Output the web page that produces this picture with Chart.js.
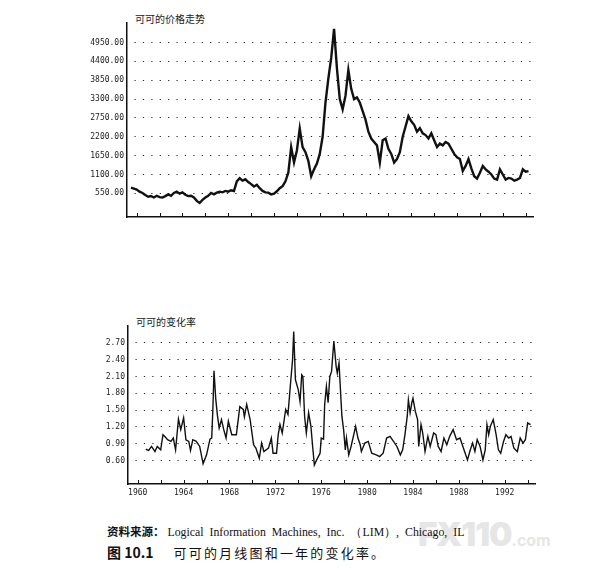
<!DOCTYPE html>
<html>
<head>
<meta charset="utf-8">
<script src="https://cdn.jsdelivr.net/npm/chart.js@4.4.0/dist/chart.umd.min.js"></script>
<style>
    body { margin: 0; background: #fff; width: 593px; height: 586px; position: relative; overflow: hidden; }
    .box { position: absolute; left: 0; }
    .title { position: absolute; font-family: "Noto Sans CJK SC", sans-serif; font-size: 10px; color: #222; white-space: nowrap; }
    .source { position: absolute; left: 107px; top: 523px; font-family: "Liberation Serif", serif; font-size: 11.8px; color: #111; white-space: nowrap; word-spacing: 3px; }
    .source b { font-family: "Noto Sans CJK SC", sans-serif; font-weight: bold; font-size: 11.5px; margin-right: 3px; }
    .caption { position: absolute; left: 107px; top: 542px; font-family: "Noto Sans CJK SC", sans-serif; font-size: 13px; color: #111; white-space: nowrap; letter-spacing: 2.2px; }
    .caption b { font-size: 14px; letter-spacing: 0; margin-right: 20px; }
    .mark { position: absolute; left: 418px; top: 514px; font-family: Inter, "DejaVu Sans", sans-serif; font-weight: 900; font-size: 33px; color: #e6e6e6; white-space: nowrap; letter-spacing: -1px; }
    .mark span { font-size: 16px; font-weight: 700; letter-spacing: 0; }
</style>
</head>
<body>
<div class="title" style="left:135px; top:11px;">可可的价格走势</div>
<div class="box" style="top:0;"><canvas id="price-chart" width="593" height="230"></canvas></div>
<div class="title" style="left:136px; top:314px;">可可的变化率</div>
<div class="box" style="top:300px;"><canvas id="roc-chart" width="593" height="200"></canvas></div>
<div class="mark">FX110<span>.com</span></div>
<div class="source"><b>资料来源：</b>Logical Information Machines, Inc. （LIM）, Chicago, IL</div>
<div class="caption"><b>图 10.1</b>可可的月线图和一年的变化率。</div>
<script>
// Precio del cacao, un valor por trimestre desde 1959.5
const priceStart = 1959.5;
const priceValues = [
    720, 690,
    660, 600, 560, 500,
    450, 470, 430, 480,
    440, 430, 470, 520,
    480, 560, 600, 540,
    580, 510, 470, 480,
    430, 330, 270, 360,
    430, 480, 560, 520,
    570, 600, 580, 620,
    600, 640, 620, 900,
    990, 920, 960, 880,
    820, 750, 800, 700,
    620, 580, 570, 520,
    540, 610, 700, 760,
    900, 1150, 1900, 1450,
    1800, 2440, 1900, 1750,
    1500, 1050, 1250, 1420,
    1700, 2200, 3200, 3900,
    4500, 5350, 4200, 3300,
    3000, 3400, 4150, 3600,
    3300, 3350, 3200, 2950,
    2700, 2350, 2150, 2050,
    1950, 1450, 2100, 2150,
    1850, 1700, 1450, 1550,
    1750, 2200, 2500, 2800,
    2650, 2550, 2350, 2450,
    2300, 2250, 2150, 2300,
    2100, 1900, 2000, 1950,
    2050, 2000, 1850, 1700,
    1600, 1550, 1200, 1350,
    1550, 1280, 1050, 980,
    1150, 1350, 1250, 1180,
    1100, 980, 950, 1250,
    1100, 950, 1000, 980,
    920, 950, 1000, 1250,
    1180, 1200
];
const priceTicks = [550, 1100, 1650, 2200, 2750, 3300, 3850, 4400, 4950];

// Tasa de cambio a un año
const rocYears = [
    1960.7, 1960.95, 1961.2, 1961.5, 1961.7, 1962.0, 1962.2, 1962.4, 1962.6, 1962.9,
    1963.1, 1963.3, 1963.55, 1963.75, 1964.0, 1964.2, 1964.45, 1964.6, 1964.8, 1965.1,
    1965.4, 1965.7, 1966.0, 1966.3, 1966.45, 1966.55, 1966.65, 1966.8, 1966.95, 1967.1,
    1967.3, 1967.5, 1967.7, 1967.9, 1968.2, 1968.6, 1968.9, 1969.2, 1969.3, 1969.5,
    1969.8, 1970.1, 1970.3, 1970.6, 1970.8, 1971.0, 1971.4, 1971.65, 1971.8, 1972.1,
    1972.25, 1972.4, 1972.6, 1972.9, 1973.1, 1973.3, 1973.5, 1973.6, 1973.75, 1974.0,
    1974.15, 1974.3, 1974.4, 1974.55, 1974.7, 1974.9, 1975.1, 1975.25, 1975.4, 1975.6,
    1975.9, 1976.0, 1976.2, 1976.3, 1976.45, 1976.6, 1976.75, 1976.9, 1977.1, 1977.3,
    1977.4, 1977.55, 1977.8, 1977.95, 1978.1, 1978.2, 1978.4, 1978.6, 1979.0, 1979.2,
    1979.4, 1979.5, 1979.8, 1980.1, 1980.4, 1980.8, 1981.1, 1981.4, 1981.7, 1982.0,
    1982.3, 1982.6, 1982.9, 1983.1, 1983.3, 1983.5, 1983.6, 1983.75, 1983.9, 1984.0,
    1984.2, 1984.4, 1984.5, 1984.7, 1984.85, 1985.05, 1985.3, 1985.5, 1985.8, 1986.0,
    1986.2, 1986.45, 1986.7, 1986.95, 1987.2, 1987.5, 1987.8, 1988.1, 1988.3, 1988.5,
    1988.75, 1989.0, 1989.2, 1989.4, 1989.6, 1989.85, 1990.1, 1990.3, 1990.45, 1990.6,
    1990.75, 1991.0, 1991.25, 1991.45, 1991.65, 1991.9, 1992.1, 1992.35, 1992.55, 1992.8,
    1993.1, 1993.35, 1993.6, 1993.8, 1994.0, 1994.25
];
const rocValues = [
    0.80, 0.78, 0.85, 0.76, 0.85, 0.79, 1.06, 1.02, 0.97, 0.94,
    1.00, 0.79, 1.34, 1.15, 1.36, 0.97, 0.94, 0.78, 0.97, 0.94,
    0.85, 0.54, 0.70, 0.98, 1.00, 1.51, 2.20, 1.70, 1.40, 1.18,
    1.33, 1.15, 1.00, 1.30, 1.06, 1.06, 1.56, 1.51, 1.38, 1.60,
    1.33, 0.88, 0.82, 0.64, 0.91, 0.76, 0.82, 1.00, 0.73, 0.73,
    1.06, 1.24, 1.09, 1.51, 1.42, 1.92, 2.40, 2.90, 2.04, 1.86,
    1.65, 2.13, 2.10, 1.39, 1.09, 1.45, 1.21, 0.85, 0.52, 0.61,
    0.73, 1.00, 0.98, 1.60, 1.92, 1.63, 2.10, 2.19, 2.73, 2.28,
    2.16, 2.34, 1.39, 1.15, 0.79, 1.00, 0.70, 0.85, 1.21, 1.00,
    0.88, 0.76, 0.91, 0.94, 0.73, 0.70, 0.67, 0.73, 1.00, 1.03,
    0.94, 0.85, 0.70, 0.79, 1.06, 1.39, 1.68, 1.45, 1.63, 1.71,
    1.48, 1.33, 0.85, 1.24, 1.09, 0.76, 1.03, 0.85, 1.09, 1.06,
    0.85, 0.76, 1.00, 0.88, 1.03, 1.15, 0.97, 1.00, 0.88, 0.76,
    0.61, 0.79, 0.91, 0.76, 0.97, 0.85, 0.61, 0.79, 1.24, 1.06,
    1.21, 1.33, 1.06, 0.79, 0.73, 0.94, 1.06, 1.00, 1.03, 0.82,
    0.76, 1.00, 0.91, 0.97, 1.27, 1.24
];
const rocTicks = [0.6, 0.9, 1.2, 1.5, 1.8, 2.1, 2.4, 2.7];
const yearTicks = [1960, 1962, 1964, 1966, 1968, 1970, 1972, 1974, 1976, 1978,
    1980, 1982, 1984, 1986, 1988, 1990, 1992, 1994];

const monoFont = { family: "'DejaVu Sans Mono', monospace", size: 8 };

// Marcas cortas del eje x hacia dentro del gráfico
const innerTicks = {
    id: "innerTicks",
    afterDraw(chart) {
        const ctx = chart.ctx;
        const x = chart.scales.x;
        ctx.save();
        ctx.strokeStyle = "#111";
        ctx.lineWidth = 1;
        x.ticks.forEach((t) => {
            const px = Math.round(x.getPixelForValue(t.value)) + 0.5;
            ctx.beginPath();
            ctx.moveTo(px, x.top);
            ctx.lineTo(px, x.top - 4);
            ctx.stroke();
        });
        ctx.restore();
    },
};

function yScale(min, max, ticks, digits, width) {
    return {
        type: "linear",
        min: min,
        max: max,
        afterBuildTicks: (s) => { s.ticks = ticks.map((v) => ({ value: v })); },
        afterFit: (s) => { s.width = width; },
        grid: { color: "#222", lineWidth: 1, drawTicks: false },
        border: { color: "#111", width: 1.5, dash: [1.2, 7.2], dashOffset: -7 },
        ticks: {
            color: "#222",
            font: monoFont,
            padding: 3,
            callback: (v) => Number(v).toFixed(digits),
        },
    };
}

function xScale(showLabels, height) {
    return {
        type: "linear",
        min: 1959.15,
        max: 1994.64,
        afterBuildTicks: (s) => { s.ticks = yearTicks.map((v) => ({ value: v })); },
        afterFit: (s) => { s.height = height; },
        grid: { display: false, drawTicks: false },
        border: { color: "#111", width: 1.5 },
        ticks: {
            display: showLabels,
            color: "#222",
            font: monoFont,
            padding: 4,
            maxRotation: 0,
            autoSkip: false,
            callback: (v) => (v % 4 === 0 && v < 1994 ? String(v) : ""),
        },
    };
}

const commonOptions = {
    responsive: false,
    animation: false,
    devicePixelRatio: 1,
    plugins: { legend: { display: false }, tooltip: { enabled: false } },
    elements: { point: { radius: 0 } },
};

// Gráfico de precios
new Chart(document.getElementById("price-chart").getContext("2d"), {
    type: "line",
    data: {
        datasets: [
            {
                data: priceValues.map((v, i) => ({ x: priceStart + i * 0.25, y: v })),
                borderColor: "#111",
                borderWidth: 2.4,
                tension: 0,
                fill: false,
            },
        ],
    },
    options: {
        ...commonOptions,
        layout: { padding: { left: 0, right: 60, top: 23, bottom: 0 } },
        scales: {
            x: xScale(false, 13),
            y: yScale(-140, 5520, priceTicks, 2, 127),
        },
    },
    plugins: [innerTicks],
});

// Gráfico de la tasa de cambio
new Chart(document.getElementById("roc-chart").getContext("2d"), {
    type: "line",
    data: {
        datasets: [
            {
                data: rocValues.map((v, i) => ({ x: rocYears[i], y: v })),
                borderColor: "#111",
                borderWidth: 1.4,
                tension: 0,
                fill: false,
            },
        ],
    },
    options: {
        ...commonOptions,
        layout: { padding: { left: 0, right: 58, top: 26, bottom: 0 } },
        scales: {
            x: xScale(true, 16),
            y: yScale(0.18, 3.0, rocTicks, 2, 128),
        },
    },
    plugins: [innerTicks],
});
</script>
</body>
</html>
